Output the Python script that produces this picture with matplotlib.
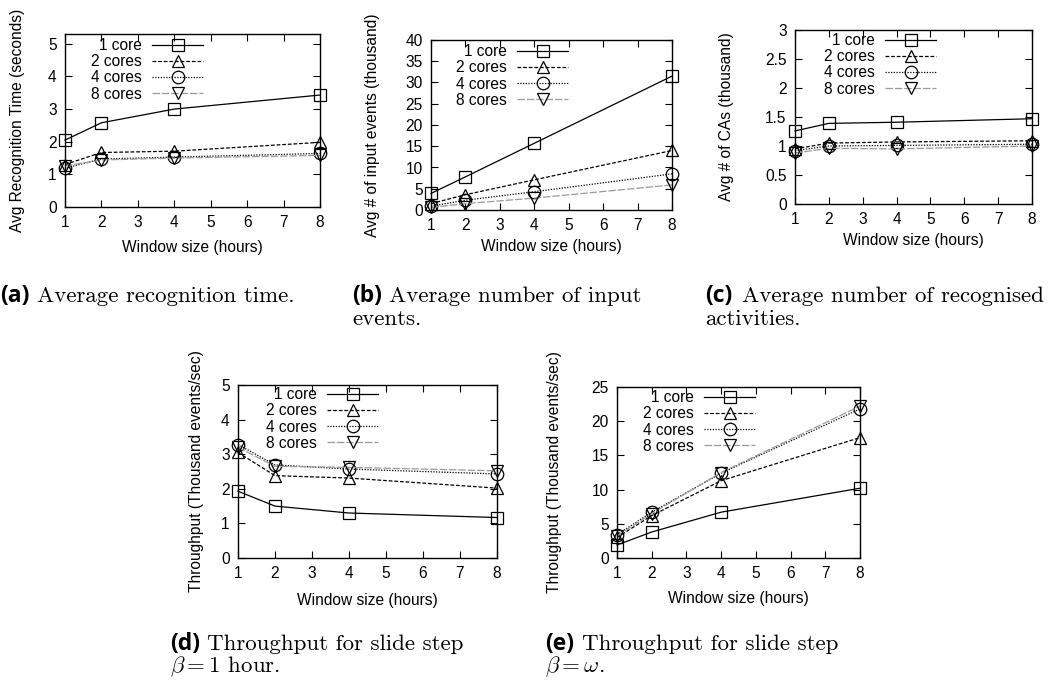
import matplotlib
matplotlib.use("Agg")
import matplotlib.pyplot as plt
from matplotlib.ticker import MultipleLocator, FuncFormatter

plt.rcParams['font.family'] = ['Liberation Sans', 'DejaVu Sans']
plt.rcParams['mathtext.fontset'] = 'cm'

W, H = 1055, 681
FS = 11.2

# Data
windows = [1, 2, 4, 8]
labels = ['1 core', '2 cores', '4 cores', '8 cores']

rec_time = {
    '1 core': [2.05, 2.58, 3.0, 3.43],
    '2 cores': [1.3, 1.67, 1.71, 1.98],
    '4 cores': [1.19, 1.47, 1.53, 1.64],
    '8 cores': [1.26, 1.44, 1.5, 1.58],
}
input_events = {
    '1 core': [3.9, 7.8, 15.7, 31.5],
    '2 cores': [1.5, 3.6, 7.1, 14.0],
    '4 cores': [0.9, 2.3, 4.3, 8.5],
    '8 cores': [0.6, 1.5, 2.8, 5.9],
}
num_cas = {
    '1 core': [1.26, 1.39, 1.41, 1.47],
    '2 cores': [0.95, 1.05, 1.07, 1.09],
    '4 cores': [0.92, 1.0, 1.01, 1.03],
    '8 cores': [0.88, 0.96, 0.95, 1.0],
}
thr_1h = {
    '1 core': [1.93, 1.5, 1.3, 1.17],
    '2 cores': [3.05, 2.38, 2.31, 2.02],
    '4 cores': [3.28, 2.69, 2.57, 2.43],
    '8 cores': [3.2, 2.65, 2.62, 2.52],
}
thr_w = {
    '1 core': [1.9, 3.8, 6.7, 10.2],
    '2 cores': [3.0, 6.2, 11.3, 17.6],
    '4 cores': [3.4, 6.7, 12.4, 21.8],
    '8 cores': [3.2, 6.5, 12.5, 22.2],
}

styles = {
    '1 core': dict(color='black', ls='-', marker='s'),
    '2 cores': dict(color='black', ls=(0, (3, 1.5)), marker='^'),
    '4 cores': dict(color='black', ls=(0, (1, 1.2)), marker='o'),
    '8 cores': dict(color='#9a9a9a', ls=(0, (6, 1.5)), marker='v'),
}


def make_axes(fig, box):
    # box = left, top, right, bottom in pixels
    l, t, r, b = box
    return fig.add_axes([l / W, 1 - b / H, (r - l) / W, (b - t) / H])


def draw(ax, box, data, ylim, ystep, ylabel, leg_anchor, ylab_px, xlab_px):
    l, t, r, b = box
    for lab in labels:
        st = styles[lab]
        ax.plot(windows, data[lab], color=st['color'], ls=st['ls'], lw=0.9,
                marker=st['marker'], markersize=9, markerfacecolor='none',
                markeredgecolor='black', markeredgewidth=0.9, label=lab,
                clip_on=False)
    ax.set_xlim(1, 8)
    ax.set_ylim(*ylim)
    ax.xaxis.set_major_locator(MultipleLocator(1))
    ax.yaxis.set_major_locator(MultipleLocator(ystep))
    ax.yaxis.set_major_formatter(FuncFormatter(lambda v, p: f'{v:g}'))
    ax.tick_params(direction='in', top=True, right=True, length=5, width=0.8,
                   labelsize=FS)
    ax.tick_params(axis='x', pad=6)
    ax.tick_params(axis='y', pad=6)
    for s in ax.spines.values():
        s.set_linewidth(1.0)
    ax.set_xlabel('Window size (hours)', fontsize=FS)
    ax.set_ylabel(ylabel, fontsize=FS)
    ax.xaxis.label.set_va('center')
    ax.yaxis.label.set_va('center')
    ax.xaxis.set_label_coords(0.5, -xlab_px / (b - t))
    ax.yaxis.set_label_coords(-ylab_px / (r - l), 0.5)
    ax.legend(loc='upper right', bbox_to_anchor=leg_anchor, frameon=False,
              markerfirst=False, numpoints=1, handlelength=3.25,
              handletextpad=0.7, labelspacing=0.08, borderpad=0,
              borderaxespad=0, fontsize=FS)


fig = plt.figure(figsize=(W / 100, H / 100), dpi=100)

box_a = (65, 34, 320, 207)
ax_a = make_axes(fig, box_a)
draw(ax_a, box_a, rec_time, (0, 5.3), 1, 'Avg Recognition Time (seconds)',
     (0.541, 0.977), 47, 41)

box_b = (431, 40, 672, 210)
ax_b = make_axes(fig, box_b)
draw(ax_b, box_b, input_events, (0, 40), 5, 'Avg # of input events (thousand)',
     (0.568, 0.976), 58, 37)

box_c = (795, 30, 1032, 204)
ax_c = make_axes(fig, box_c)
draw(ax_c, box_c, num_cas, (0, 3), 0.5, 'Avg # of CAs (thousand)',
     (0.595, 0.983), 68, 36)

box_d = (238, 385, 497, 558)
ax_d = make_axes(fig, box_d)
draw(ax_d, box_d, thr_1h, (0, 5), 1, 'Throughput (Thousand events/sec)',
     (0.54, 0.988), 41, 42)

box_e = (617, 387, 860, 558)
ax_e = make_axes(fig, box_e)
draw(ax_e, box_e, thr_w, (0, 25), 5, 'Throughput (Thousand events/sec)',
     (0.568, 0.982), 62, 40)

# captions
cap_size = 16.5
captions = [
    (0, 296, '(a)', ['Average recognition time.']),
    (352, 296, '(b)', ['Average number of input', 'events.']),
    (705, 296, '(c)', ['Average number of recognised', 'activities.']),
    (170, 644, '(d)', ['Throughput for slide step', r'$\beta = 1$ hour.']),
    (545, 644, '(e)', ['Throughput for slide step', r'$\beta = \omega$.']),
]
for x, y, tag, lines in captions:
    fig.text(x / W, 1 - y / H, tag, fontsize=cap_size, fontweight='bold',
             family='Open Sans', va='center', ha='left')
    fig.text((x + 37) / W, 1 - y / H, lines[0], fontsize=cap_size,
             family='cmr10', va='center', ha='left')
    if len(lines) > 1:
        fig.text(x / W, 1 - (y + 23) / H, lines[1], fontsize=cap_size,
                 family='cmr10', va='center', ha='left')

fig.savefig('out.png', dpi=100)
